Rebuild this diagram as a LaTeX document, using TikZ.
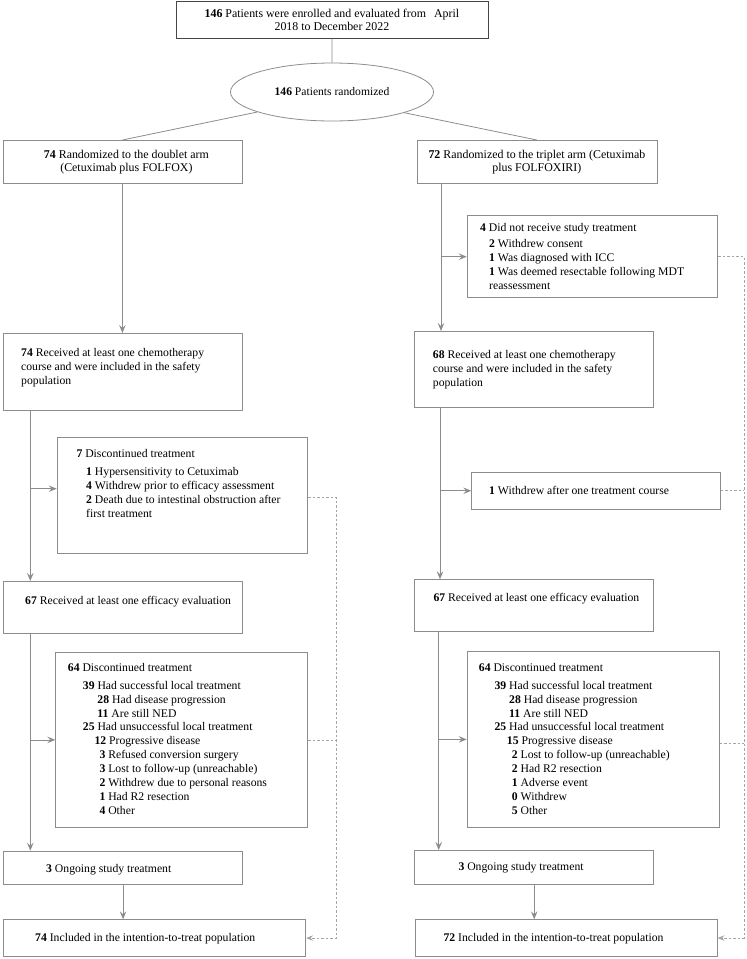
\documentclass[tikz,border=0pt]{standalone}
\usepackage{fontspec}
\setmainfont{Liberation Serif}
\usetikzlibrary{shapes.geometric,arrows.meta,calc}
\newcommand\fs{\fontsize{11.7}{13.9}\selectfont}
\newcommand\fst{\fontsize{11.9}{13}\selectfont}
\definecolor{boxgray}{RGB}{140,140,140}
\definecolor{topgray}{RGB}{70,70,70}
\definecolor{linegray}{RGB}{140,140,140}
\definecolor{dashgray}{RGB}{165,165,165}
\tikzset{
  box/.style={draw=boxgray, line width=0.8pt, anchor=north west, inner sep=0pt, fill=white},
  tx/.style={anchor=north west, inner sep=0pt, align=left, font=\fs, text=black},
  ln/.style={draw=linegray, line width=0.8pt},
  arr/.style={ln, -{Stealth[length=8pt,width=6.5pt,inset=3pt]}},
  dsh/.style={draw=dashgray, line width=0.8pt, dash pattern=on 2.5pt off 2pt},
  dsharr/.style={dsh, -{Stealth[length=7pt,width=5.5pt,inset=2.5pt]}}
}
\begin{document}
\begin{tikzpicture}[x=1pt,y=-1pt]
\useasboundingbox (0,0) rectangle (747,959);

% top part
\node[box, draw=topgray, minimum width=312pt, minimum height=37pt, align=center,
      font=\fst] (top) at (175.5,1)
  {\textbf{146} Patients were enrolled and evaluated from\hspace{8pt}April\\2018 to December 2022};
\node[draw=boxgray, line width=0.8pt, ellipse, minimum width=203pt, minimum height=58pt,
      inner sep=0pt, font=\fontsize{11.6}{13}\selectfont] (ell) at (332,92) {\textbf{146} Patients randomized};
\node[box, minimum width=239pt, minimum height=43pt, align=center,
      font=\fst] (L1) at (2.5,140)
  {\hspace{8pt}\textbf{74} Randomized to the doublet arm\\\hspace{8pt}(Cetuximab plus FOLFOX)};
\node[box, minimum width=240pt, minimum height=43pt, align=center,
      font=\fst] (R1) at (416.5,140)
  {\textbf{72} Randomized to the triplet arm (Cetuximab\\plus FOLFOXIRI)};

% left column boxes
\node[box, minimum width=239pt, minimum height=77pt] (L2) at (3.3,333) {};
\node[box, minimum width=250.6pt, minimum height=116pt] (LD2) at (56.7,437.3) {};
\node[box, minimum width=239pt, minimum height=51.7pt] (L3) at (3.3,581) {};
\node[box, minimum width=252pt, minimum height=175.6pt] (LD3) at (55.3,651.7) {};
\node[box, minimum width=238.7pt, minimum height=33.6pt] (L4) at (3.3,850.7) {};
\node[box, minimum width=302pt, minimum height=36.7pt] (L5) at (3.3,919.3) {};

% right column boxes
\node[box, minimum width=250.6pt, minimum height=82pt] (RD1) at (466.7,215.3) {};
\node[box, minimum width=239pt, minimum height=76.3pt] (R2) at (414.3,331) {};
\node[box, minimum width=248.7pt, minimum height=37.3pt] (RD2) at (471.3,471.7) {};
\node[box, minimum width=239pt, minimum height=51.7pt] (R3) at (414.3,579.3) {};
\node[box, minimum width=252pt, minimum height=176.6pt] (RD3) at (466.7,650.7) {};
\node[box, minimum width=239pt, minimum height=34.3pt] (R4) at (414.3,850) {};
\node[box, minimum width=301.7pt, minimum height=36.7pt] (R5) at (415,919.3) {};

% texts
\node[tx] (L2t) at (21,346.3) {\strut\textbf{74} Received at least one chemotherapy\\\strut course and were included in the safety\\\strut population};
\node[tx] (R2t) at (432.7,348.3) {\strut\textbf{68} Received at least one chemotherapy\\\strut course and were included in the safety\\\strut population};
\node[tx] (RD1t) at (480,221.3) {\strut\textbf{4} Did not receive study treatment\\[2.4pt]
  \hspace*{9pt}\strut\textbf{2} Withdrew consent\\
  \hspace*{9pt}\strut\textbf{1} Was diagnosed with ICC\\
  \hspace*{9pt}\strut\textbf{1} Was deemed resectable following MDT\\
  \hspace*{9pt}\strut reassessment};
\node[tx] (LD2t) at (76.3,447.6) {\strut\textbf{7} Discontinued treatment\\[4.5pt]
  \hspace*{9.7pt}\strut\textbf{1} Hypersensitivity to Cetuximab\\
  \hspace*{9.7pt}\strut\textbf{4} Withdrew prior to efficacy assessment\\
  \hspace*{9.7pt}\strut\textbf{2} Death due to intestinal obstruction after\\
  \hspace*{9.7pt}\strut first treatment};
\node[tx] (RD2t) at (489,484.3) {\strut\textbf{1} Withdrew after one treatment course};
\node[tx] (L3t) at (25,594.3) {\strut\textbf{67} Received at least one efficacy evaluation};
\node[tx] (R3t) at (433.3,591.6) {\strut\textbf{67} Received at least one efficacy evaluation};
\node[tx] (LD3t) at (67.7,661.6) {\strut\textbf{64} Discontinued treatment\\[3.8pt]
  \hspace*{15pt}\strut\textbf{39} Had successful local treatment\\
  \hspace*{29.6pt}\strut\textbf{28} Had disease progression\\
  \hspace*{29.6pt}\strut\textbf{11} Are still NED\\
  \hspace*{15pt}\strut\textbf{25} Had unsuccessful local treatment\\
  \hspace*{26.6pt}\strut\textbf{12} Progressive disease\\
  \hspace*{31.6pt}\strut\textbf{3} Refused conversion surgery\\
  \hspace*{31.6pt}\strut\textbf{3} Lost to follow-up (unreachable)\\
  \hspace*{31.6pt}\strut\textbf{2} Withdrew due to personal reasons\\
  \hspace*{31.6pt}\strut\textbf{1} Had R2 resection\\
  \hspace*{31.6pt}\strut\textbf{4} Other};
\node[tx] (RD3t) at (478.7,661.6) {\strut\textbf{64} Discontinued treatment\\[3.8pt]
  \hspace*{15.6pt}\strut\textbf{39} Had successful local treatment\\
  \hspace*{30.3pt}\strut\textbf{28} Had disease progression\\
  \hspace*{30.3pt}\strut\textbf{11} Are still NED\\
  \hspace*{15.6pt}\strut\textbf{25} Had unsuccessful local treatment\\
  \hspace*{28pt}\strut\textbf{15} Progressive disease\\
  \hspace*{33pt}\strut\textbf{2} Lost to follow-up (unreachable)\\
  \hspace*{33pt}\strut\textbf{2} Had R2 resection\\
  \hspace*{33pt}\strut\textbf{1} Adverse event\\
  \hspace*{33pt}\strut\textbf{0} Withdrew\\
  \hspace*{33pt}\strut\textbf{5} Other};
\node[tx] (L4t) at (46,862.6) {\strut\textbf{3} Ongoing study treatment};
\node[tx] (R4t) at (458.3,861) {\strut\textbf{3} Ongoing study treatment};
\node[tx] (L5t) at (35,932) {\strut\textbf{74} Included in the intention-to-treat population};
\node[tx] (R5t) at (443.3,932) {\strut\textbf{72} Included in the intention-to-treat population};

% top connectors
\draw[ln] (top.south) -- (ell.north);
\draw[ln] (ell.195.8) -- (L1.north);
\draw[ln] (ell.-16) -- (R1.north);

% left spine
\draw[arr] (L1.south) -- (L1.south |- L2.north);
\coordinate (L2s) at ([xshift=27pt]L2.south west);
\coordinate (LD2in) at ([yshift=7pt]LD2.west);
\draw[arr] (L2s) -- (L2s |- L3.north);
\draw[arr] (L2s |- LD2in) -- (LD2in);
\coordinate (L3s) at ([xshift=27pt]L3.south west);
\draw[arr] (L3s) -- (L3s |- L4.north);
\draw[arr] (L3s |- LD3.west) -- (LD3.west);
\draw[arr] (L4.south) -- (L4.south |- L5.north);

% right spine
\coordinate (R1s) at ([xshift=24.5pt]R1.south west);
\draw[arr] (R1s) -- (R1s |- R2.north);
\draw[arr] (R1s |- RD1.west) -- (RD1.west);
\coordinate (R2s) at ([xshift=25.7pt]R2.south west);
\draw[arr] (R2s) -- (R2s |- R3.north);
\draw[arr] (R2s |- RD2.west) -- (RD2.west);
\coordinate (R3s) at ([xshift=24.4pt]R3.south west);
\draw[arr] (R3s) -- (R3s |- R4.north);
\draw[arr] (R3s |- RD3.west) -- (RD3.west);
\draw[arr] (R4.south) -- (R4.south |- R5.north);

% dashed return lines, left
\coordinate (LD2out) at ([yshift=-2pt]LD2.east);
\coordinate (LDx) at ([xshift=28.4pt]LD2out);
\draw[dsharr] (LD2out) -- (LDx) |- (L5.east);
\draw[dsh] (LD3.east) -- (LDx |- LD3.east);

% dashed return lines, right
\coordinate (RDx) at ([xshift=26pt]RD1.east);
\draw[dsharr] (RD1.east) -- (RDx) |- (R5.east);
\draw[dsh] (RD2.east) -- (RDx |- RD2.east);
\coordinate (RD3out) at ([yshift=-4pt]RD3.east);
\draw[dsh] (RD3out) -- (RDx |- RD3out);
\end{tikzpicture}
\end{document}
